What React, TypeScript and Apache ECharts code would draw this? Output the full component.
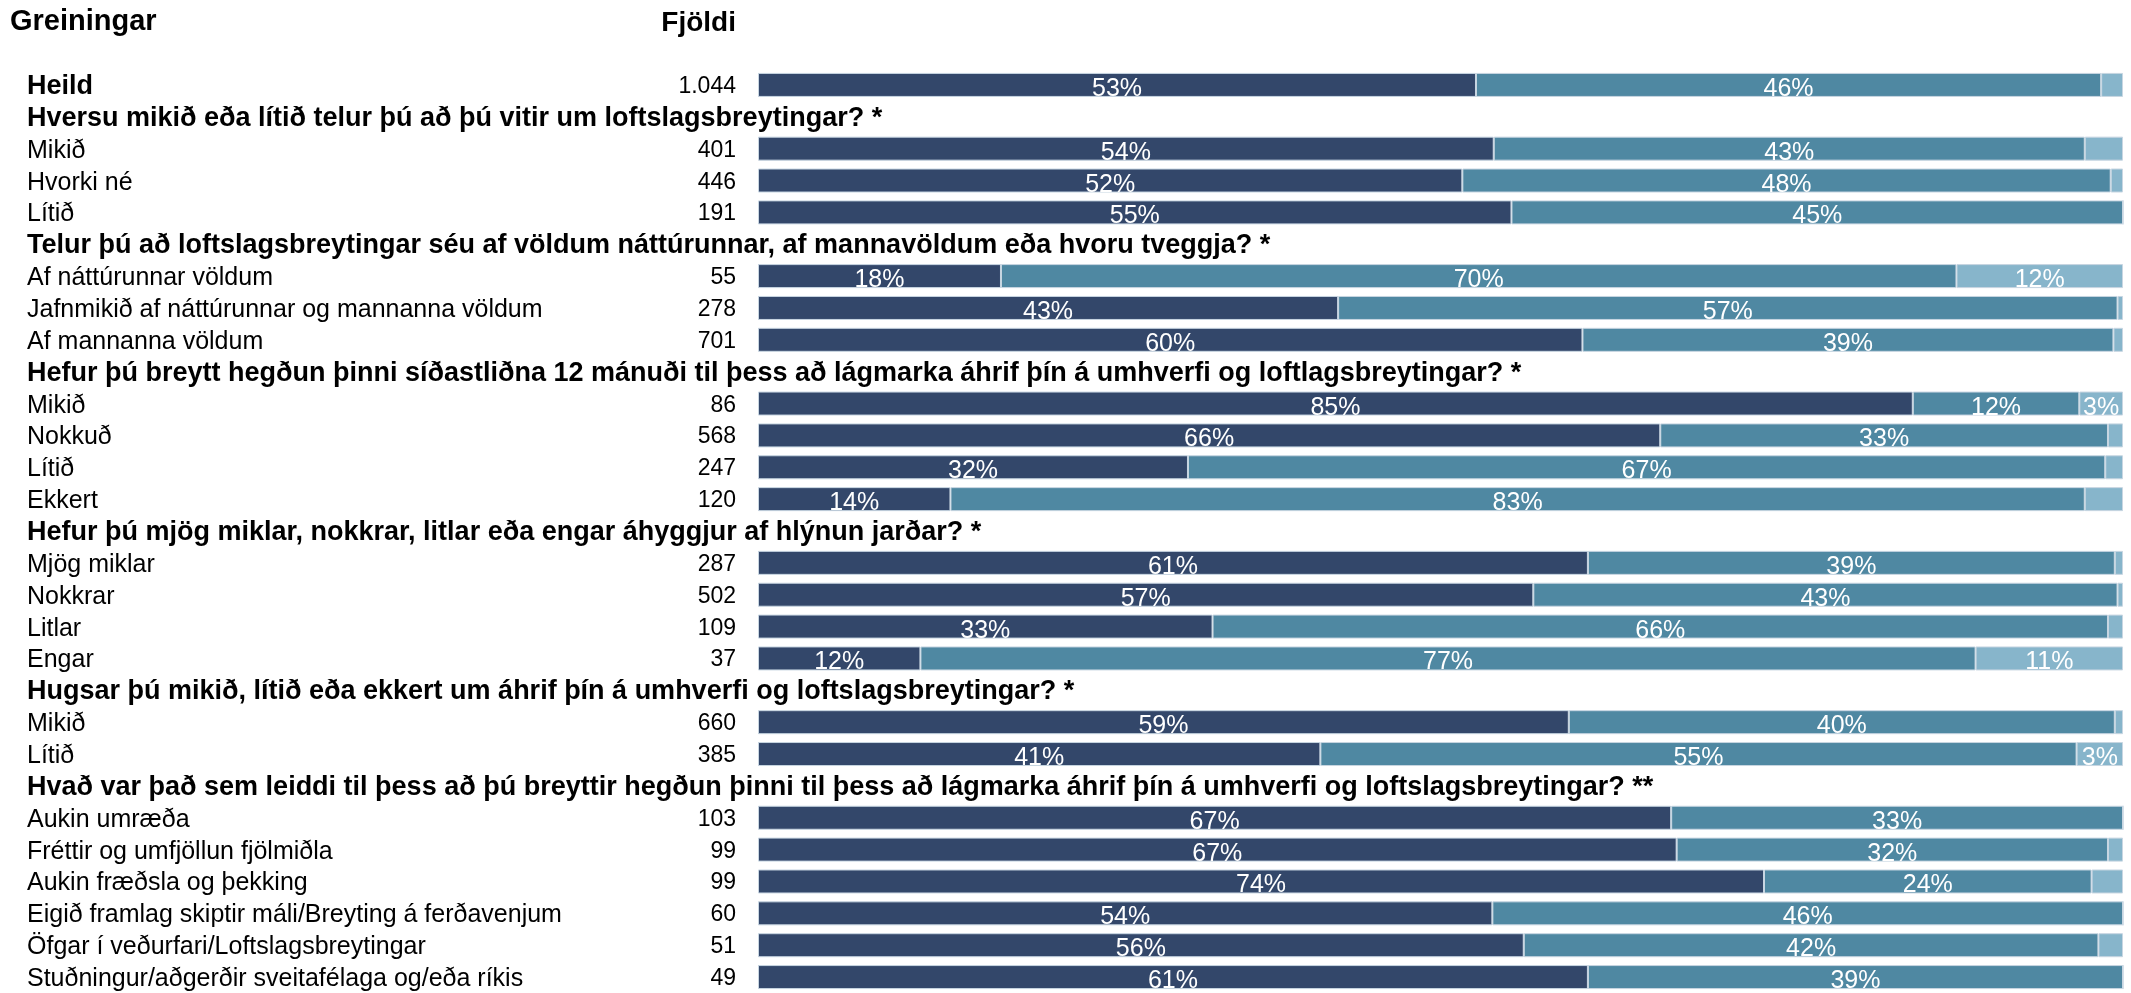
import React, { useEffect, useRef } from "react";
import * as echarts from "echarts";

const categories: string[] = [
  "Heild",
  "Hversu mikið eða lítið telur þú að þú vitir um loftslagsbreytingar? *",
  "Mikið",
  "Hvorki né",
  "Lítið",
  "Telur þú að loftslagsbreytingar séu af völdum náttúrunnar, af mannavöldum eða hvoru tveggja? *",
  "Af náttúrunnar völdum",
  "Jafnmikið af náttúrunnar og mannanna völdum",
  "Af mannanna völdum",
  "Hefur þú breytt hegðun þinni síðastliðna 12 mánuði til þess að lágmarka áhrif þín á umhverfi og loftlagsbreytingar? *",
  "Mikið",
  "Nokkuð",
  "Lítið",
  "Ekkert",
  "Hefur þú mjög miklar, nokkrar, litlar eða engar áhyggjur af hlýnun jarðar? *",
  "Mjög miklar",
  "Nokkrar",
  "Litlar",
  "Engar",
  "Hugsar þú mikið, lítið eða ekkert um áhrif þín á umhverfi og loftslagsbreytingar? *",
  "Mikið",
  "Lítið",
  "Hvað var það sem leiddi til þess að þú breyttir hegðun þinni til þess að lágmarka áhrif þín á umhverfi og loftslagsbreytingar? **",
  "Aukin umræða",
  "Fréttir og umfjöllun fjölmiðla",
  "Aukin fræðsla og þekking",
  "Eigið framlag skiptir máli/Breyting á ferðavenjum",
  "Öfgar í veðurfari/Loftslagsbreytingar",
  "Stuðningur/aðgerðir sveitafélaga og/eða ríkis",
];

const boldRows: number[] = [0, 1, 5, 9, 14, 19, 22];

const counts: string[] = [
  "1.044", "", "401", "446", "191", "", "55", "278", "701", "", "86", "568", "247", "120",
  "", "287", "502", "109", "37", "", "660", "385", "", "103", "99", "99", "60", "51", "49",
];

const darkValues: (number | null)[] = [
  52.6, null, 53.9, 51.6, 55.2, null, 17.8, 42.5, 60.4, null, 84.6, 66.1, 31.5, 14.1,
  null, 60.8, 56.8, 33.3, 11.9, null, 59.4, 41.2, null, 66.9, 67.3, 73.7, 53.8, 56.1, 60.8,
];
const midValues: (number | null)[] = [
  45.8, null, 43.3, 47.5, 44.8, null, 70.0, 57.1, 38.9, null, 12.2, 32.8, 67.2, 83.1,
  null, 38.6, 42.8, 65.6, 77.3, null, 40.0, 55.4, null, 33.1, 31.6, 24.0, 46.2, 42.1, 39.2,
];
const lightValues: (number | null)[] = [
  1.6, null, 2.8, 0.9, 0, null, 12.2, 0.4, 0.7, null, 3.2, 1.1, 1.3, 2.8,
  null, 0.6, 0.4, 1.1, 10.8, null, 0.6, 3.4, null, 0, 1.1, 2.3, 0, 1.8, 0,
];

const seriesColors = ["#33476A", "#4F88A2", "#87B5CB"];
const FONT = "'Liberation Sans', Arial, sans-serif";

export default function App() {
  const ref = useRef<HTMLDivElement>(null);

  useEffect(() => {
    if (!ref.current) return;
    const chart = echarts.init(ref.current, undefined, { renderer: "svg" });

    const barLabel = {
      show: true,
      position: "inside",
      color: "#ffffff",
      fontSize: 25,
      fontFamily: FONT,
      offset: [0, 2],
      formatter: (p: any) =>
        p.value != null && p.value >= 3 ? Math.round(p.value) + "%" : "",
    };

    const makeSeries = (name: string, data: (number | null)[], color: string) => ({
      name,
      type: "bar",
      stack: "total",
      yAxisIndex: 0,
      barWidth: 24,
      data,
      itemStyle: { color, borderColor: "#c8d6e2", borderWidth: 1 },
      label: barLabel,
      emphasis: { disabled: true },
    });

    chart.setOption({
      animation: false,
      textStyle: { fontFamily: FONT },
      grid: { left: 758, right: 8, top: 69, bottom: 0, containLabel: false },
      xAxis: { type: "value", min: 0, max: 100, show: false },
      yAxis: [
        {
          type: "category",
          inverse: true,
          data: categories,
          position: "left",
          axisLine: { show: false },
          axisTick: { show: false },
          splitLine: { show: false },
          axisLabel: {
            interval: 0,
            margin: 731,
            align: "left",
            formatter: (v: string, i: number) =>
              boldRows.includes(i) ? `{b|${v}}` : `{n|${v}}`,
            rich: {
              b: { fontSize: 27, fontWeight: "bold", color: "#000", fontFamily: FONT },
              n: { fontSize: 25, color: "#000", fontFamily: FONT },
            },
          },
        },
        {
          type: "category",
          inverse: true,
          data: categories,
          position: "left",
          axisLine: { show: false },
          axisTick: { show: false },
          splitLine: { show: false },
          axisLabel: {
            interval: 0,
            margin: 22,
            align: "right",
            fontSize: 23,
            color: "#000",
            fontFamily: FONT,
            formatter: (_v: string, i: number) => counts[i],
          },
        },
      ],
      graphic: [
        {
          type: "text",
          left: 10,
          top: 5,
          style: { text: "Greiningar", fontSize: 29, fontWeight: "bold", fill: "#000", fontFamily: FONT },
        },
        {
          type: "text",
          right: 2131 - 736,
          top: 7,
          style: { text: "Fjöldi", fontSize: 28, fontWeight: "bold", fill: "#000", fontFamily: FONT },
        },
      ],
      series: [
        makeSeries("dark", darkValues, seriesColors[0]),
        makeSeries("mid", midValues, seriesColors[1]),
        makeSeries("light", lightValues, seriesColors[2]),
      ],
    });

    return () => chart.dispose();
  }, []);

  return (
    <div
      ref={ref}
      style={{ position: "fixed", left: 0, top: 0, width: 2131, height: 993 }}
    />
  );
}
